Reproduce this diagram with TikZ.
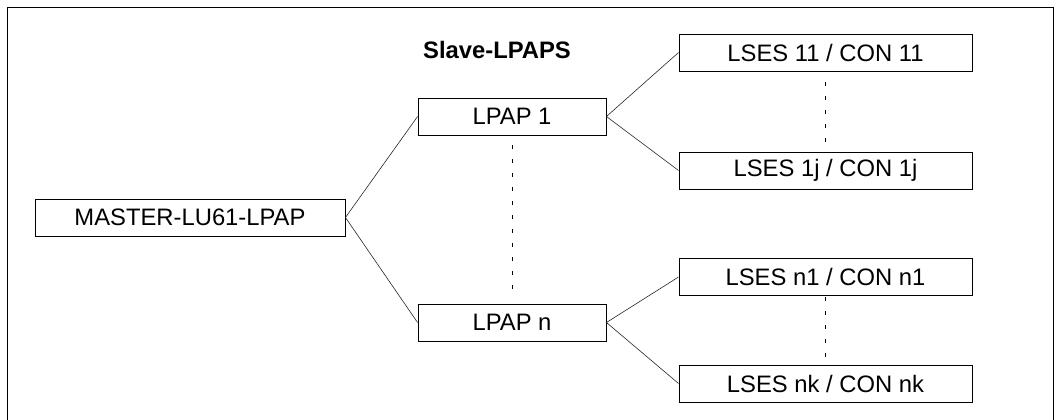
\documentclass[tikz,border=0pt]{standalone}
\usepackage{fontspec}
\setmainfont{Liberation Sans}
\begin{document}
\begin{tikzpicture}[x=1pt,y=-1pt,
 box/.style={draw, line width=0.9pt, inner sep=0pt, minimum height=37pt, font=\fontsize{23.8}{28}\selectfont},
 lpapbox/.style={box, minimum width=188pt},
 lsesbox/.style={box, minimum width=293pt},
 link/.style={line width=0.6pt, draw=black!85},
 dots/.style={line width=0.9pt, dash pattern=on 4pt off 10pt},
 frame/.style={line width=1pt}]
\useasboundingbox (0,0) rectangle (1061,420);
\draw[frame] (7,422) -- (7,8) -- (1053,8) -- (1053,422);
\node[box, minimum width=310pt] (master) at (190,217.5) {MASTER-LU61-LPAP};
\node[font=\fontsize{23.8}{28}\selectfont\bfseries] (title) at (497,50) {Slave-LPAPS};
\node[lpapbox] (lpap1) at (512,116.5) {LPAP 1};
\node[lpapbox] (lpapn) at (512,322.5) {LPAP n};
\node[lsesbox] (l11) at (825.5,52.5) {LSES 11 / CON 11};
\node[lsesbox] (l1j) at (825.5,170.5) {LSES 1j / CON 1j};
\node[lsesbox] (ln1) at (825.5,277) {LSES n1 / CON n1};
\node[lsesbox] (lnk) at (825.5,383.5) {LSES nk / CON nk};
\draw[link] (lpap1.west) -- (master.east) -- (lpapn.west);
\draw[link] (l11.west) -- (lpap1.east) -- (l1j.west);
\draw[link] (ln1.west) -- (lpapn.east) -- (lnk.west);
\draw[dots] ([yshift=-10pt]lpap1.south) -- ([yshift=8pt]lpapn.north);
\draw[dots] ([yshift=-11pt]l11.south) -- ([yshift=8pt]l1j.north);
\draw[dots] ([yshift=-1pt]ln1.south) -- ([yshift=3pt]lnk.north);
\end{tikzpicture}
\end{document}
